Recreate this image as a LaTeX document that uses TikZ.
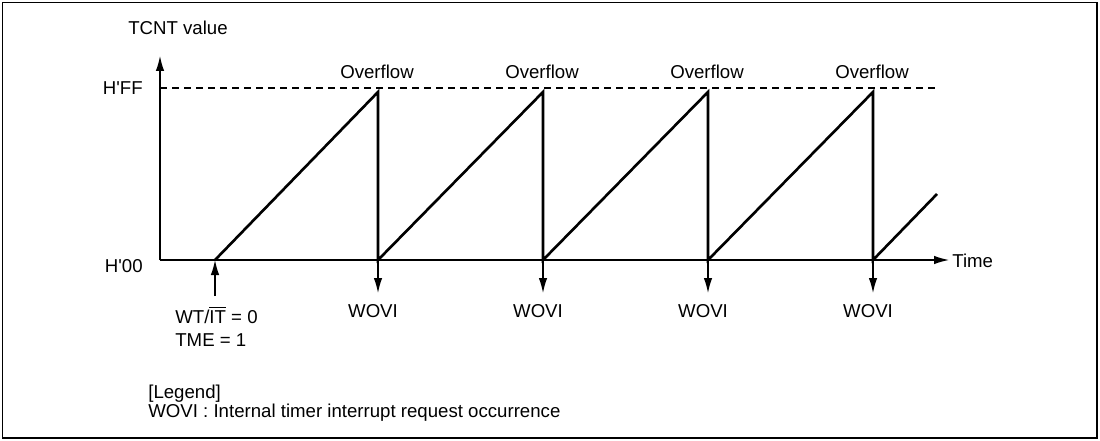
\documentclass[tikz,border=0pt]{standalone}
\usepackage{fontspec}
\setmainfont{Liberation Sans}
\usetikzlibrary{arrows.meta}

\tikzset{
  lbl/.style={inner sep=0pt,font=\fontsize{10.6}{12.7}\selectfont},
  axis/.style={line width=0.7pt},
  ramp/.style={line width=1.5pt,line join=miter},
  tip/.style={-{Latex[length=3mm,width=1.7mm]}}
}

\begin{document}
\begin{tikzpicture}[x=0.2mm,y=-0.2mm]
\useasboundingbox (0,0) rectangle (1100,441);
\draw[line width=1.1pt] (2.5,2.5) rectangle (1097,438);

% axes
\coordinate (o) at (160,260);
\coordinate (ytop) at (160,56);
\coordinate (xend) at (949,260);
\draw[axis,tip] (o) -- (ytop);
\draw[axis,tip] (o) -- (xend);
\node[lbl,anchor=base] (tcnt) at (178,35) {TCNT value};
\node[lbl,anchor=base west] (time) at (952,267) {Time};
\node[lbl,anchor=base east] (hff) at (143,95) {H\textquotesingle FF};
\node[lbl,anchor=base east] (h00) at (143,272) {H\textquotesingle 00};

\coordinate (dl) at (160,88);
\coordinate (dr) at (935,88);
\draw[axis,dash pattern=on 1.4mm off 1mm] (dl) -- (dr);

% counter
\coordinate (s) at (215,260);
\coordinate (e) at (937,194);
\foreach \n/\x in {1/378,2/543,3/708,4/873}
{
  \coordinate (p\n) at (\x,92);
  \coordinate (b\n) at (\x,260);
  \coordinate (a\n) at (\x,293);
  \node[lbl,anchor=base] (of\n) at ({\x-1},79) {Overflow};
  \node[lbl,anchor=base] (w\n) at ({\x-5},317) {WOVI};
  \draw[axis,tip] (b\n) -- (a\n);
}
\draw[ramp] (s) -- (p1) -- (b1) -- (p2) -- (b2) -- (p3) -- (b3) -- (p4) -- (b4) -- (e);

\coordinate (st) at (215,296);
\draw[axis,tip] (st) -- (s);
\node[lbl,anchor=base west] (wt) at (175,323) {WT/$\overline{\mbox{IT}}$ = 0};
\node[lbl,anchor=base west] (tme) at (175,346) {TME = 1};

% legend
\node[lbl,anchor=base west] (leg) at (148,398) {[Legend]};
\node[lbl,anchor=base west] (legw) at (148,417) {WOVI : Internal timer interrupt request occurrence};
\end{tikzpicture}
\end{document}
